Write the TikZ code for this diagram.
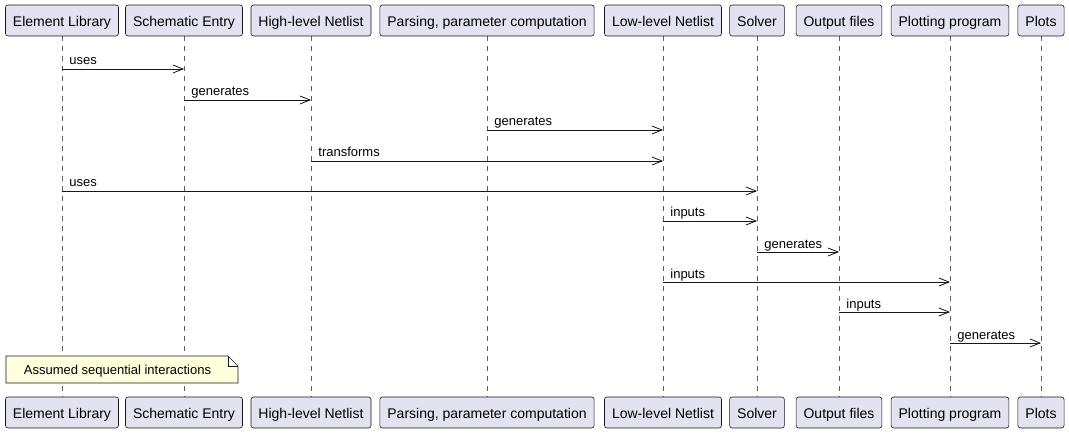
\documentclass[tikz,border=0pt]{standalone}
\usepackage{fontspec}
\setmainfont{Liberation Sans}
\usetikzlibrary{arrows.meta}
\definecolor{boxfill}{HTML}{E2E2F0}
\definecolor{boxline}{HTML}{181818}
\definecolor{notefill}{HTML}{FEFFDD}
\begin{document}
\begin{tikzpicture}[x=1pt,y=-1pt,
  part/.style={draw=boxline, fill=boxfill, rounded corners=2.5pt, line width=0.6pt,
    minimum height=31pt, inner xsep=7.5pt, inner ysep=0pt, text height=12pt, text depth=0pt,
    font=\fontsize{14}{16}\selectfont},
  life/.style={draw=boxline!70, line width=0.5pt, dash pattern=on 5pt off 5pt},
  msg/.style={draw=boxline, line width=0.8pt, -{Straight Barb[length=10pt,width=8pt,line width=0.8pt]}},
  lbl/.style={font=\fontsize{13}{15}\selectfont, inner sep=0pt, anchor=base west, xshift=7pt, yshift=4pt},
  notebox/.style={draw=boxline, fill=notefill, line width=0.6pt}
]
\useasboundingbox (0,0) rectangle (1069,433);
% participants (top and bottom)
\foreach \id/\x/\t in {el/62/Element Library, se/184/Schematic Entry, hn/311/High-level Netlist,
  pp/487/{Parsing, parameter computation}, ln/663/Low-level Netlist, so/757/Solver,
  of/839/Output files, pg/950/Plotting program, pl/1041/Plots}{
  \draw[life] (\x,36) -- (\x,397);
  \node[part] (\id T) at (\x,20.5) {\t};
  \node[part] (\id B) at (\x,412.5) {\t};
}
% messages
\draw[msg] (elT |- 0,69)  -- (seT |- 0,69)  node[lbl,pos=0] {uses};
\draw[msg] (seT |- 0,100) -- (hnT |- 0,100) node[lbl,pos=0] {generates};
\draw[msg] (ppT |- 0,130) -- (lnT |- 0,130) node[lbl,pos=0] {generates};
\draw[msg] (hnT |- 0,161) -- (lnT |- 0,161) node[lbl,pos=0] {transforms};
\draw[msg] (elT |- 0,191) -- (soT |- 0,191) node[lbl,pos=0] {uses};
\draw[msg] (lnT |- 0,221) -- (soT |- 0,221) node[lbl,pos=0] {inputs};
\draw[msg] (soT |- 0,252) -- (ofT |- 0,252) node[lbl,pos=0] {generates};
\draw[msg] (lnT |- 0,282) -- (pgT |- 0,282) node[lbl,pos=0] {inputs};
\draw[msg] (ofT |- 0,312) -- (pgT |- 0,312) node[lbl,pos=0] {inputs};
\draw[msg] (pgT |- 0,343) -- (plT |- 0,343) node[lbl,pos=0] {generates};
% note
\draw[notebox] (6,356) -- (228,356) -- (238,366) -- (238,383) -- (6,383) -- cycle;
\draw[boxline, line width=0.6pt] (228,356) -- (228,366) -- (238,366);
\node[font=\fontsize{13}{15}\selectfont, inner sep=0pt] (note) at (117.5,371) {Assumed sequential interactions};
\end{tikzpicture}
\end{document}
